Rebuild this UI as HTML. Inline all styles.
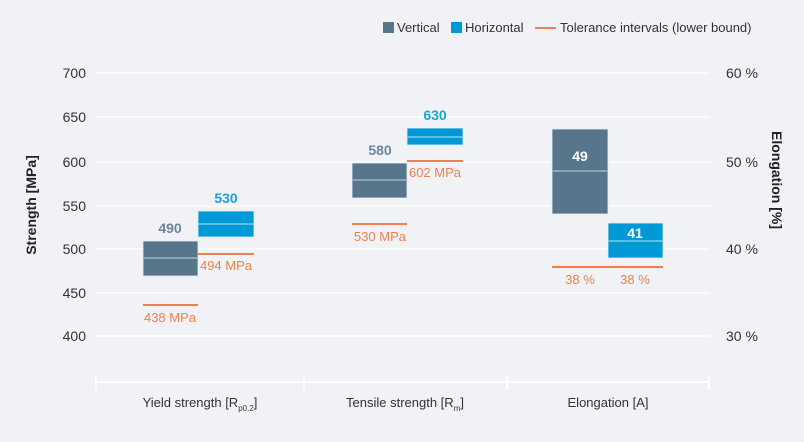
<!DOCTYPE html>
<html><head><style>body{margin:0;background:#f0f2f5}</style></head><body>
<svg width="804" height="437" xmlns="http://www.w3.org/2000/svg" font-family="Liberation Sans, sans-serif">
<rect width="804" height="437" fill="#f0f2f5"/>
<g stroke="#fff" stroke-width="1.2">
<line x1="95" x2="710" y1="73" y2="73"/><line x1="95" x2="710" y1="117" y2="117"/>
<line x1="95" x2="710" y1="162" y2="162"/><line x1="95" x2="710" y1="206" y2="206"/>
<line x1="95" x2="710" y1="249" y2="249"/><line x1="95" x2="710" y1="293" y2="293"/>
<line x1="95" x2="710" y1="336" y2="336"/>
</g>
<g stroke="#fff" stroke-width="2">
<line x1="95" x2="710" y1="382" y2="382"/>
<line x1="96" x2="96" y1="375" y2="390"/><line x1="304" x2="304" y1="375" y2="390"/>
<line x1="507" x2="507" y1="375" y2="390"/><line x1="709" x2="709" y1="375" y2="390"/>
</g>
<g font-size="14" fill="#333" text-anchor="end">
<text x="86" y="78">700</text><text x="86" y="122">650</text><text x="86" y="167">600</text>
<text x="86" y="211">550</text><text x="86" y="254">500</text><text x="86" y="298">450</text><text x="86" y="341">400</text>
</g>
<g font-size="14" fill="#333">
<text x="726" y="78">60 %</text><text x="726" y="167">50 %</text><text x="726" y="254">40 %</text><text x="726" y="341">30 %</text>
</g>
<text transform="translate(36,205) rotate(-90)" font-size="14" font-weight="bold" fill="#222" text-anchor="middle">Strength [MPa]</text>
<text transform="translate(772,180) rotate(90)" font-size="14" font-weight="bold" fill="#222" text-anchor="middle">Elongation [%]</text>
<g stroke="#e8eef2" stroke-width="0.8">
<rect x="143" y="241" width="55" height="35" fill="#57768c"/>
<rect x="198" y="211" width="56" height="26" fill="#0099d6"/>
<rect x="352" y="163" width="55" height="35" fill="#57768c"/>
<rect x="407" y="128" width="56" height="17" fill="#0099d6"/>
<rect x="552" y="129" width="56" height="85" fill="#57768c"/>
<rect x="608" y="223" width="55" height="35" fill="#0099d6"/>
</g>
<g stroke="#9fb3c2" stroke-width="1.5">
<line x1="143" x2="198" y1="258" y2="258"/><line x1="352" x2="407" y1="180" y2="180"/><line x1="552" x2="608" y1="171" y2="171"/>
</g>
<g stroke="#7fcbea" stroke-width="1.5">
<line x1="198" x2="254" y1="224" y2="224"/><line x1="407" x2="463" y1="137" y2="137"/><line x1="608" x2="663" y1="241" y2="241"/>
</g>
<g stroke="#f08050" stroke-width="2">
<line x1="143" x2="198" y1="305" y2="305"/><line x1="198" x2="254" y1="254" y2="254"/>
<line x1="352" x2="407" y1="224" y2="224"/><line x1="407" x2="463" y1="161" y2="161"/>
<line x1="552" x2="663" y1="267" y2="267"/>
</g>
<g font-size="14" font-weight="bold" text-anchor="middle">
<text x="170" y="233" fill="#6a8599">490</text><text x="226" y="203" fill="#1aa3dd">530</text>
<text x="380" y="155" fill="#6a8599">580</text><text x="435" y="120" fill="#1aa3dd">630</text>
<text x="580" y="161" fill="#fff">49</text><text x="635" y="238" fill="#fff">41</text>
</g>
<g font-size="13" fill="#f08050" text-anchor="middle">
<text x="170" y="322">438 MPa</text><text x="226" y="270">494 MPa</text>
<text x="380" y="241">530 MPa</text><text x="435" y="177">602 MPa</text>
<text x="580" y="284">38 %</text><text x="635" y="284">38 %</text>
</g>
<g font-size="13" fill="#333" text-anchor="middle">
<text x="200" y="407">Yield strength [R<tspan font-size="8" dy="4">p0.2</tspan><tspan dy="-4">]</tspan></text>
<text x="405" y="407">Tensile strength [R<tspan font-size="8" dy="4">m</tspan><tspan dy="-4">]</tspan></text>
<text x="608" y="407">Elongation [A]</text>
</g>
<g font-size="13" fill="#333">
<rect x="383" y="22" width="11" height="11" fill="#57768c"/><text x="397" y="32">Vertical</text>
<rect x="451" y="22" width="11" height="11" fill="#0099d6"/><text x="465" y="32">Horizontal</text>
<line x1="535" x2="556" y1="28" y2="28" stroke="#f08050" stroke-width="2"/><text x="560" y="32">Tolerance intervals (lower bound)</text>
</g>
</svg>
</body></html>
